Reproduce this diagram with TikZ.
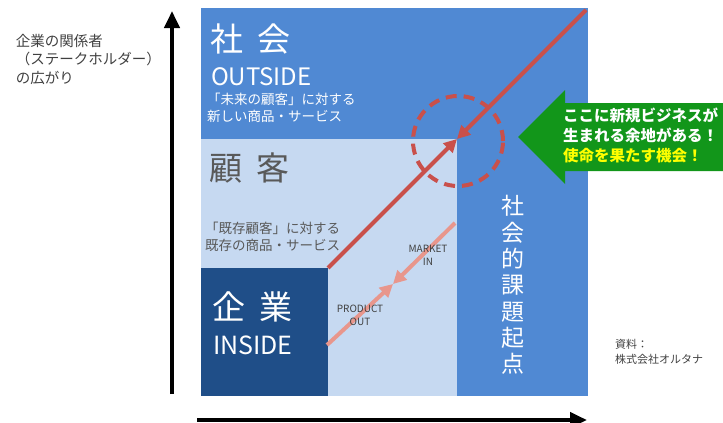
\documentclass[tikz,border=0pt]{standalone}
\usepackage{fontspec}
\setmainfont{Noto Sans CJK JP}
\usetikzlibrary{arrows.meta}
\definecolor{outerblue}{HTML}{5089D3}
\definecolor{lightblue}{HTML}{C6D9F1}
\definecolor{darkblue}{HTML}{1F4E88}
\definecolor{redline}{HTML}{C9504B}
\definecolor{pinkline}{HTML}{E8968C}
\definecolor{greenarrow}{HTML}{12961A}
\definecolor{graytext}{HTML}{595959}
\definecolor{darktext}{HTML}{404040}
\definecolor{yellowtext}{HTML}{FFFF00}
\tikzset{
  region/.style={anchor=north west, minimum width=#1, inner sep=0pt, outer sep=0pt},
  label/.style={inner sep=0pt, outer sep=0pt},
  redarrow/.style={draw=redline, line width=4pt, -{Triangle[length=13pt,width=13pt]}},
  pinkarrow/.style={draw=pinkline, line width=4pt, -{Triangle[length=13pt,width=13pt]}},
  axis/.style={draw=black, line width=4pt, -{Triangle[length=17pt,width=15pt]}},
}
\begin{document}
\begin{tikzpicture}[x=1pt,y=-1pt]
\useasboundingbox (0,0) rectangle (723,423);

% regions
\node[region=387pt, minimum height=388pt, fill=outerblue] (society) at (201,8) {};
\node[region=256pt, minimum height=257pt, fill=lightblue] (customer) at (201,139) {};
\node[region=127pt, minimum height=128pt, fill=darkblue] (company) at (201,268) {};

% axes
\coordinate (yaxisbot) at (172,394);
\coordinate (yaxistop) at (172,11);
\coordinate (xaxisleft) at (197,420);
\coordinate (xaxisright) at (587,420);
\draw[axis] (yaxisbot) -- (yaxistop);
\draw[axis] (xaxisleft) -- (xaxisright);

% left label
\node[label, anchor=west, align=left, text=darktext, font=\fontsize{14.5}{18.5}\selectfont] (stake) at (16,59)
  {企業の関係者\\（ステークホルダー）\\の広がり};

% society texts
\node[label, anchor=west, text=white, font=\fontsize{33}{33}\selectfont] (shakai) at (210,39) {社\hspace{15pt}会};
\node[label, anchor=west, text=white, font=\fontsize{24}{24}\selectfont] (outside) at (211,77) {OUTSIDE};
\node[label, anchor=west, align=left, text=white, font=\fontsize{13.5}{17.5}\selectfont] (future) at (207,108)
  {「未来の顧客」に対する\\新しい商品・サービス};

% customer texts
\node[label, anchor=west, text=graytext, font=\fontsize{33}{33}\selectfont] (kokyaku) at (209,168) {顧\hspace{15pt}客};
\node[label, anchor=west, align=left, text=graytext, font=\fontsize{13.5}{17}\selectfont] (existing) at (205,237)
  {「既存顧客」に対する\\既存の商品・サービス};

% company texts
\node[label, anchor=west, text=white, font=\fontsize{33}{33}\selectfont] (kigyo) at (212,307) {企\hspace{15pt}業};
\node[label, anchor=west, text=white, font=\fontsize{25}{25}\selectfont] (inside) at (213,345) {INSIDE};

% vertical text
\node[label, align=center, text=white, font=\fontsize{23}{26.3}\selectfont] (kadai) at (513,285)
  {社\\会\\的\\課\\題\\起\\点};

% dashed circle
\node[circle, draw=redline, line width=4pt, dash pattern=on 11pt off 7pt, minimum size=90pt, inner sep=0pt] (opportunity) at (458,141) {};

% red arrows
\draw[redarrow] (company.north east) -- (customer.north east);
\coordinate (topright) at (586,10);
\draw[redarrow] (topright) -- (customer.north east);

% pink arrows
\coordinate (poStart) at (327,345);
\coordinate (miStart) at (455,223);
\coordinate (meet) at (393,284);
\draw[pinkarrow] (poStart) -- (meet);
\draw[pinkarrow] (miStart) -- (meet);
\node[label, align=center, text=darktext, font=\fontsize{10}{13}\selectfont] (market) at (428,255) {MARKET\\IN};
\node[label, align=center, text=darktext, font=\fontsize{10}{13}\selectfont] (product) at (360,315) {PRODUCT\\OUT};

% green arrow
\fill[greenarrow] (723,103) -- (565,103) -- (565,90) -- (518,137) -- (565,184) -- (565,171) -- (723,171) -- cycle;
\node[label, anchor=west, align=left, font=\bfseries\fontsize{15.5}{20}\selectfont] (chance) at (563,135)
  {\textcolor{white}{ここに新規ビジネスが}\\\textcolor{white}{生まれる余地がある！}\\\textcolor{yellowtext}{使命を果たす機会！}};

% source
\node[label, anchor=west, align=left, text=darktext, font=\fontsize{11}{15.5}\selectfont] (source) at (615,352)
  {資料：\\株式会社オルタナ};
\end{tikzpicture}
\end{document}
